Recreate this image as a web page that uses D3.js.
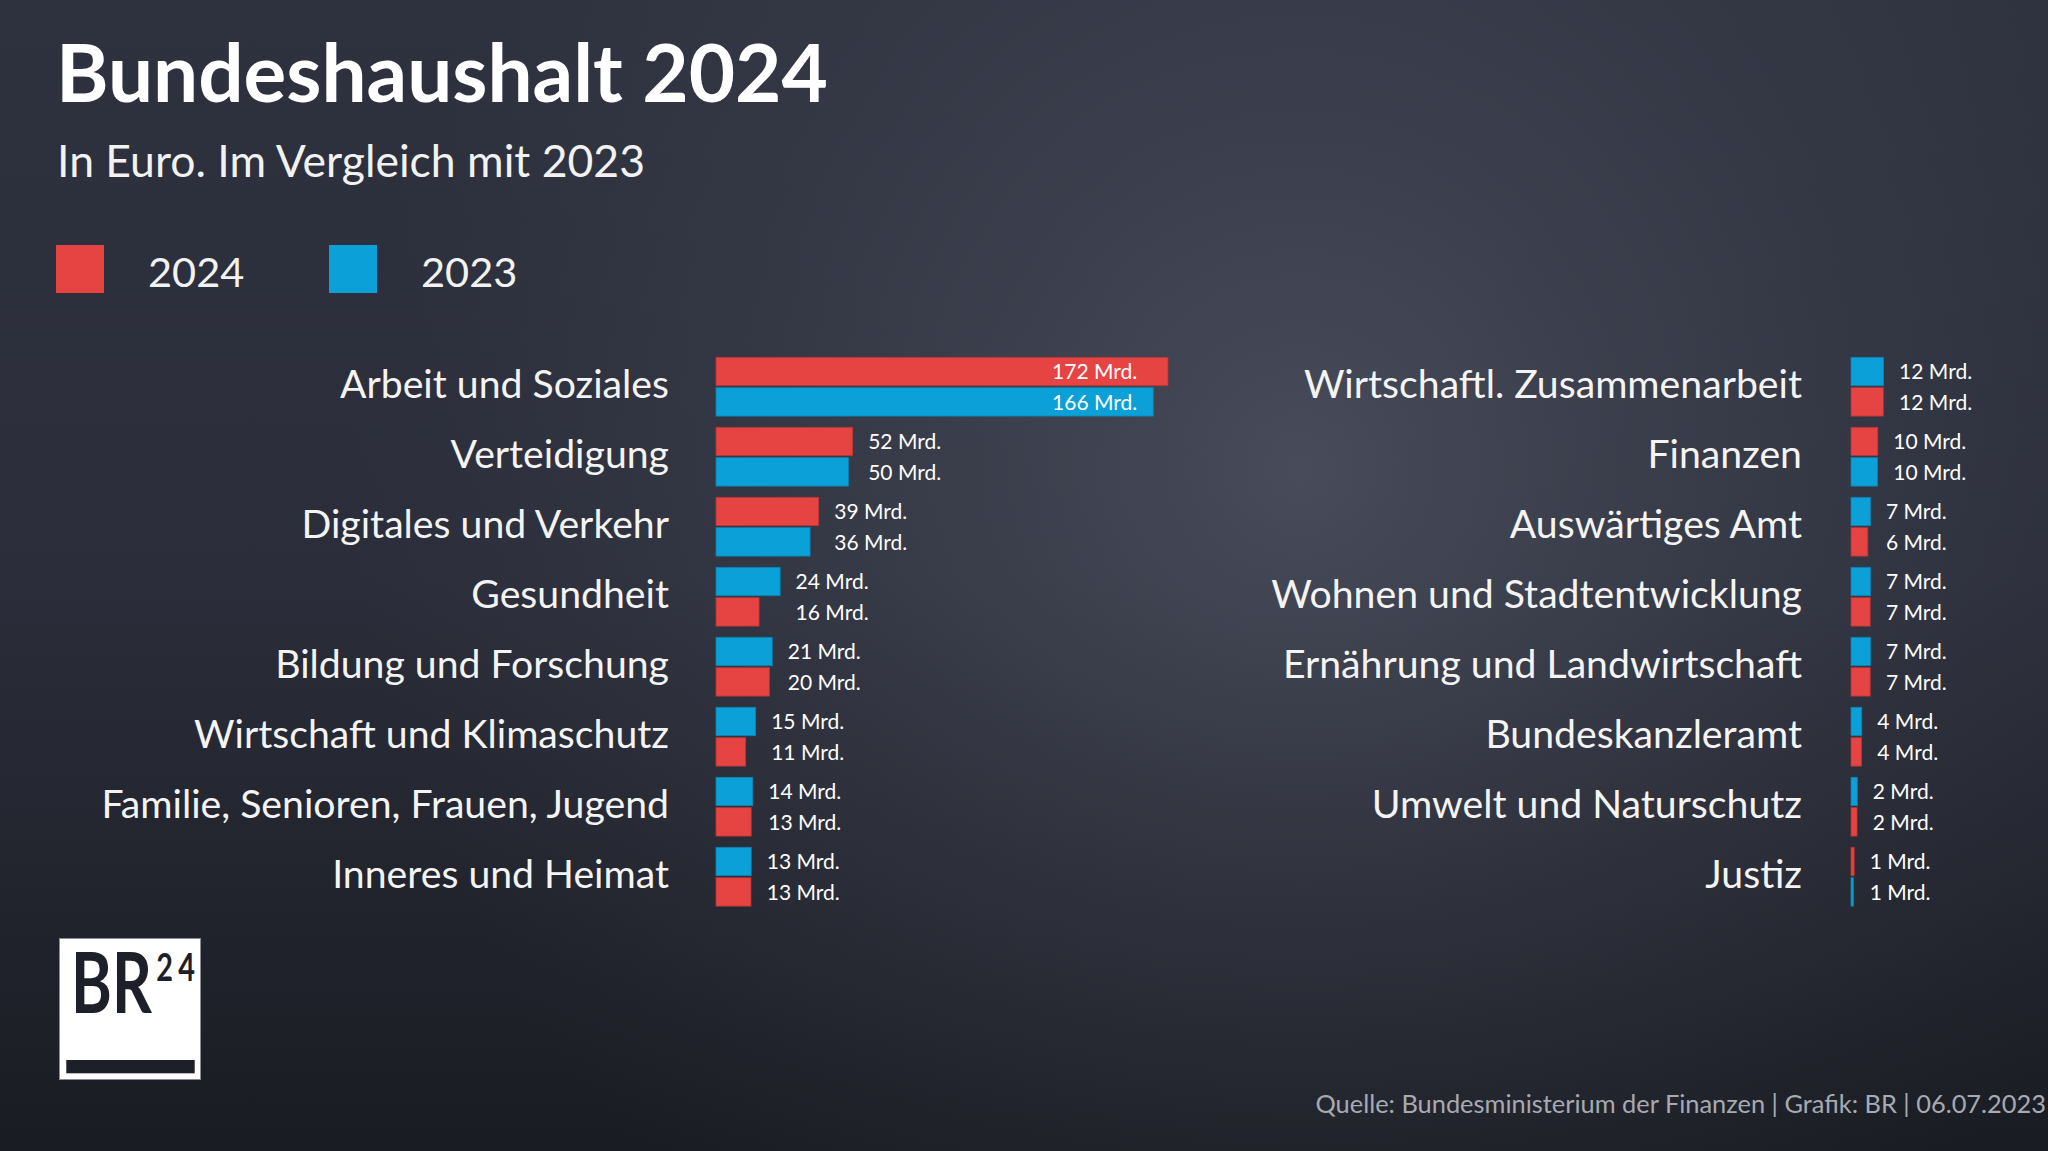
<!DOCTYPE html>
<html><head><meta charset="utf-8">
<script src="https://cdn.jsdelivr.net/npm/d3@7"></script>
<style>html,body{margin:0;padding:0;background:#22242d;overflow:hidden}svg{display:block}</style>
</head><body>
<script>
// ---- data ----
const leftCategories = ["Arbeit und Soziales","Verteidigung","Digitales und Verkehr","Gesundheit","Bildung und Forschung","Wirtschaft und Klimaschutz","Familie, Senioren, Frauen, Jugend","Inneres und Heimat"];
const leftValues2024 = [172.0, 52.0, 39.1, 16.4, 20.3, 11.3, 13.4, 13.3];
const leftValues2023 = [166.4, 50.4, 35.8, 24.4, 21.4, 15.1, 14.0, 13.4];
const rightCategories = ["Wirtschaftl. Zusammenarbeit","Finanzen","Auswärtiges Amt","Wohnen und Stadtentwicklung","Ernährung und Landwirtschaft","Bundeskanzleramt","Umwelt und Naturschutz","Justiz"];
const rightValues2024 = [12.3, 10.2, 6.4, 7.3, 7.3, 4.0, 2.3, 1.2];
const rightValues2023 = [12.4, 10.1, 7.4, 7.4, 7.4, 4.1, 2.4, 0.9];
const seriesYears = ["2024","2023"];
const titleText = "Bundeshaushalt 2024";
const subtitleText = "In Euro. Im Vergleich mit 2023";
const sourceText = "Quelle: Bundesministerium der Finanzen | Grafik: BR | 06.07.2023";
const unitSuffix = " Mrd.";

// ---- styles ----
const W = 2048, H = 1151;
const FONT = "Lato, 'Open Sans', sans-serif";
const colorOf = {"2024": "#e64343", "2023": "#0ba1d8"};
const strokeOf = {"2024": "#b83434", "2023": "#0b82b0"};

const svg = d3.select("body").append("svg").attr("width", W).attr("height", H);
const defs = svg.append("defs");
const lg = defs.append("linearGradient").attr("id","bgLin").attr("x1",0).attr("y1",0).attr("x2",0).attr("y2",1);
lg.append("stop").attr("offset","0").attr("stop-color","#2e313e");
lg.append("stop").attr("offset","0.5").attr("stop-color","#2b2e3a");
lg.append("stop").attr("offset","1").attr("stop-color","#1a1c23");
const rg = defs.append("radialGradient").attr("id","bgRad").attr("gradientUnits","userSpaceOnUse")
  .attr("cx",1300).attr("cy",470).attr("r",950);
rg.append("stop").attr("offset","0").attr("stop-color","#6a6f80").attr("stop-opacity",0.45);
rg.append("stop").attr("offset","0.5").attr("stop-color","#5a5e6e").attr("stop-opacity",0.22);
rg.append("stop").attr("offset","1").attr("stop-color","#4a4e5c").attr("stop-opacity",0);
svg.append("rect").attr("width",W).attr("height",H).attr("fill","url(#bgLin)");
svg.append("rect").attr("width",W).attr("height",H).attr("fill","url(#bgRad)");

// ---- title ----
svg.append("text").attr("x",56).attr("y",102).attr("fill","#ffffff")
  .style("font-family",FONT).style("font-weight",700).style("font-size","80px").text(titleText);
svg.append("text").attr("x",57).attr("y",177).attr("fill","#f2f2f2")
  .style("font-family",FONT).style("font-weight",400).style("font-size","44.5px").text(subtitleText);

// ---- legend ----
const legendX = d3.scalePoint().domain(seriesYears).range([56, 329]);
const leg = svg.append("g").selectAll("g").data(seriesYears).join("g")
  .attr("transform", d => `translate(${legendX(d)},245)`);
leg.append("rect").attr("width",48).attr("height",48).attr("fill", d => colorOf[d]);
leg.append("text").attr("x",92).attr("y",42).attr("fill","#f2f2f2")
  .style("font-family",FONT).style("font-size","41.5px").text(d => d);

// ---- scales ----
const x = d3.scaleLinear().domain([0,172]).range([0,452]);
const yBand = d3.scaleBand().domain(d3.range(8)).range([357.3, 357.3 + 8*70]).paddingInner(0);
const barH = 28.4, barGap = 2;

function drawColumn(cats, v24, v23, barX, labelRight) {
  const g = svg.append("g");
  const groups = cats.map((c,i) => {
    const items = [{year:"2024", v:v24[i]}, {year:"2023", v:v23[i]}]
      .sort((a,b) => b.v - a.v);
    return {cat:c, i, items};
  });
  // category labels
  g.selectAll("text.cat").data(groups).join("text").attr("class","cat")
    .attr("x", labelRight).attr("y", d => yBand(d.i) + 40.5)
    .attr("text-anchor","end").attr("fill","#f4f4f4")
    .style("font-family",FONT).style("font-size","39.2px").text(d => d.cat);
  // bars
  const gg = g.selectAll("g.grp").data(groups).join("g").attr("class","grp")
    .attr("transform", d => `translate(${barX},${yBand(d.i)})`);
  gg.selectAll("rect").data(d => d.items).join("rect")
    .attr("x",0).attr("y",(d,j) => j*(barH+barGap))
    .attr("width", d => Math.max(1.5, x(d.v))).attr("height", barH)
    .attr("fill", d => colorOf[d.year]).attr("stroke", d => strokeOf[d.year]).attr("stroke-width",0.8);
  // value labels
  gg.each(function(d) {
    const maxW = x(d3.max(d.items, e => e.v));
    const minW = x(d3.min(d.items, e => e.v));
    const inside = minW > 300;
    d3.select(this).selectAll("text").data(d.items).join("text")
      .attr("x", inside ? minW - 16 : Math.max(maxW, 1.5) + 15.5)
      .attr("text-anchor", inside ? "end" : "start")
      .attr("y", (e,j) => j*(barH+barGap) + barH/2 + 7.8)
      .attr("fill","#ffffff")
      .style("font-family",FONT).style("font-size","21px")
      .text(e => Math.round(e.v) + unitSuffix);
  });
}
drawColumn(leftCategories, leftValues2024, leftValues2023, 716, 669);
drawColumn(rightCategories, rightValues2024, rightValues2023, 1851, 1802);

// ---- source ----
svg.append("text").attr("x",2046).attr("y",1113).attr("text-anchor","end").attr("fill","#a7aab2")
  .style("font-family",FONT).style("font-size","25.4px").text(sourceText);

// ---- logo ----
const logo = svg.append("g");
logo.append("rect").attr("x",59.5).attr("y",938.5).attr("width",141).attr("height",141)
  .attr("fill","#ffffff").attr("stroke","#8a8c92").attr("stroke-width",1);
const logoText = logo.append("text").attr("transform","translate(71,1013) scale(0.74,1)")
  .attr("fill","#1e2029").style("font-family",FONT).style("font-weight",700);
logoText.append("tspan").style("font-size","84px").text("BR");
logoText.append("tspan").attr("dx",6).attr("dy",-32).style("font-size","39px").style("letter-spacing","7px").text("24");
logo.append("rect").attr("x",66.3).attr("y",1060).attr("width",128.4).attr("height",13.3).attr("fill","#1e2029");
</script>
</body></html>
